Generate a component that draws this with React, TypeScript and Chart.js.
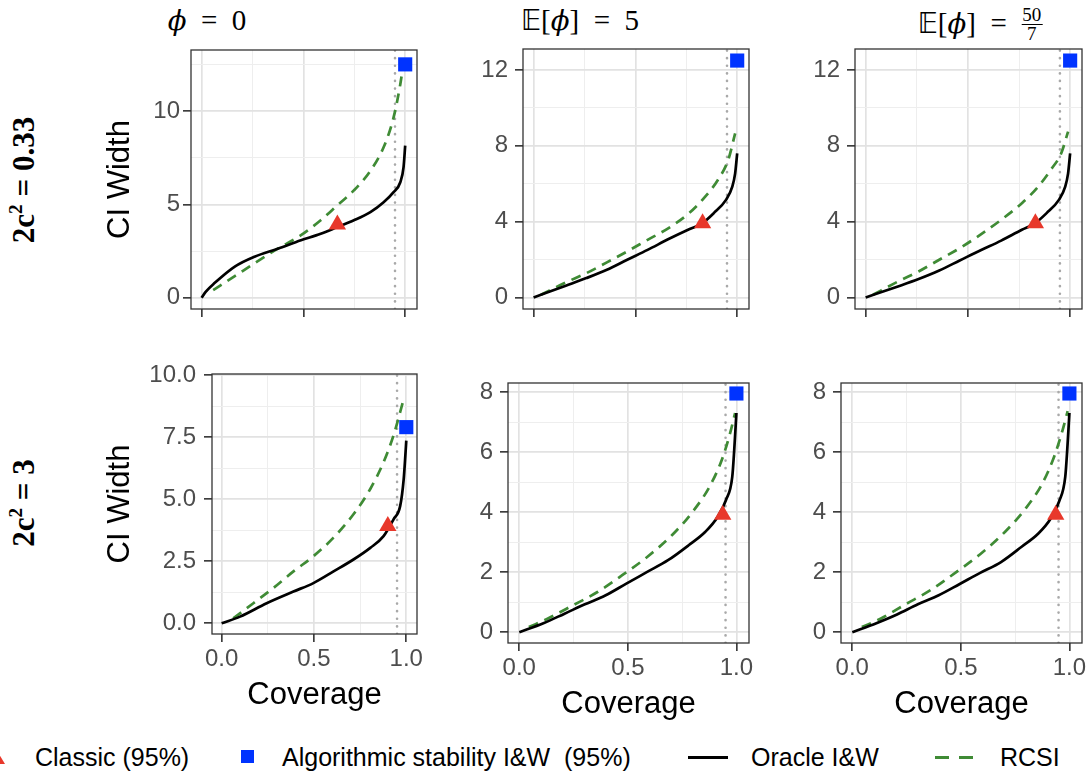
import React, { useEffect, useRef } from 'react';
import { Chart, registerables } from 'chart.js';

Chart.register(...registerables);

// ---------------- data ----------------
const coverageLevel = 0.95;
const classicWidth = 3.92;

const xTickValues = [0, 0.25, 0.5, 0.75, 1.0];
const xMajorValues = [0, 0.5, 1.0];
const xTickLabels = ['0.0', '0.5', '1.0'];

const yTicksTL = [0, 2.5, 5, 7.5, 10, 12.5];
const yMajorTL = [0, 5, 10];
const yLabelsTL = ['0', '5', '10'];

const yTicksTop = [0, 2, 4, 6, 8, 10, 12];
const yMajorTop = [0, 4, 8, 12];
const yLabelsTop = ['0', '4', '8', '12'];

const yTicksBL = [0, 1.25, 2.5, 3.75, 5, 6.25, 7.5, 8.75, 10];
const yMajorBL = [0, 2.5, 5, 7.5, 10];
const yLabelsBL = ['0.0', '2.5', '5.0', '7.5', '10.0'];

const yTicksBot = [0, 1, 2, 3, 4, 5, 6, 7, 8];
const yMajorBot = [0, 2, 4, 6, 8];
const yLabelsBot = ['0', '2', '4', '6', '8'];

// Top-left: phi = 0, 2c^2 = 0.33
const oracleCovTL = [0, 0.02, 0.065, 0.163, 0.26, 0.374, 0.488, 0.585, 0.667, 0.748, 0.829, 0.894, 0.943, 0.976, 0.992, 1.0];
const oracleWTL = [0, 0.32, 0.8, 1.67, 2.2, 2.63, 3.08, 3.43, 3.79, 4.15, 4.59, 5.12, 5.66, 6.19, 7.0, 8.15];
const rcsiCovTL = [0.057, 0.163, 0.276, 0.374, 0.488, 0.585, 0.667, 0.748, 0.829, 0.894, 0.943, 0.976, 0.992];
const rcsiWTL = [0.41, 1.16, 1.96, 2.63, 3.35, 4.15, 4.95, 5.75, 6.8, 8.06, 9.66, 11.44, 12.6];
const classicCovTL = 0.667;
const stabilityTL = 12.5;

// Top-middle: E[phi] = 5, 2c^2 = 0.33
const oracleCovTM = [0, 0.158, 0.259, 0.36, 0.46, 0.56, 0.663, 0.764, 0.824, 0.885, 0.945, 0.976, 0.99, 1.0];
const oracleWTM = [0, 0.62, 1.02, 1.46, 1.99, 2.51, 3.08, 3.6, 3.88, 4.45, 5.15, 5.85, 6.55, 7.6];
const rcsiCovTM = [0.036, 0.158, 0.259, 0.36, 0.46, 0.56, 0.663, 0.764, 0.844, 0.905, 0.956, 0.99];
const rcsiWTM = [0.14, 0.79, 1.28, 1.85, 2.43, 3.04, 3.66, 4.45, 5.33, 6.2, 7.26, 8.66];
const classicCovTM = 0.83;
const stabilityTM = 12.5;

// Top-right: E[phi] = 50/7, 2c^2 = 0.33
const oracleCovTR = [0, 0.158, 0.259, 0.36, 0.46, 0.56, 0.663, 0.764, 0.824, 0.885, 0.945, 0.976, 0.99, 1.0];
const oracleWTR = [0, 0.58, 0.97, 1.42, 1.95, 2.48, 3.0, 3.57, 3.88, 4.45, 5.15, 5.85, 6.55, 7.6];
const rcsiCovTR = [0.036, 0.158, 0.259, 0.36, 0.46, 0.56, 0.663, 0.764, 0.844, 0.905, 0.956, 0.99];
const rcsiWTR = [0.14, 0.84, 1.37, 1.99, 2.6, 3.3, 4.1, 4.97, 5.85, 6.73, 7.6, 8.75];
const classicCovTR = 0.83;
const stabilityTR = 12.5;

// Bottom-left: phi = 0, 2c^2 = 3
const oracleCovBL = [0, 0.1, 0.244, 0.389, 0.497, 0.606, 0.714, 0.805, 0.877, 0.931, 0.967, 0.986, 0.995, 1.0];
const oracleWBL = [0, 0.27, 0.81, 1.28, 1.62, 2.09, 2.57, 3.04, 3.51, 4.19, 4.73, 5.81, 6.76, 7.36];
const rcsiCovBL = [0.063, 0.172, 0.28, 0.389, 0.497, 0.606, 0.714, 0.805, 0.877, 0.931, 0.967, 0.989];
const rcsiWBL = [0.2, 0.81, 1.42, 2.09, 2.7, 3.45, 4.39, 5.41, 6.49, 7.57, 8.51, 9.12];
const classicCovBL = 0.9;
const stabilityBL = 7.9;

// Bottom-middle: E[phi] = 5, 2c^2 = 3
const oracleCovBM = [0, 0.111, 0.206, 0.302, 0.398, 0.493, 0.589, 0.685, 0.78, 0.857, 0.914, 0.952, 0.981, 0.99, 1.0];
const oracleWBM = [0, 0.3, 0.61, 0.93, 1.23, 1.62, 2.01, 2.4, 2.9, 3.35, 3.85, 4.41, 5.19, 6.08, 7.31];
const rcsiCovBM = [0.044, 0.13, 0.245, 0.36, 0.474, 0.589, 0.704, 0.799, 0.876, 0.933, 0.971, 0.994];
const rcsiWBM = [0.17, 0.45, 0.89, 1.34, 1.9, 2.51, 3.24, 4.02, 4.85, 5.75, 6.64, 7.31];
const classicCovBM = 0.937;
const stabilityBM = 7.96;

// Bottom-right: E[phi] = 50/7, 2c^2 = 3
const oracleCovBR = [0, 0.111, 0.206, 0.302, 0.398, 0.493, 0.589, 0.685, 0.78, 0.857, 0.914, 0.952, 0.981, 0.99, 1.0];
const oracleWBR = [0, 0.3, 0.59, 0.93, 1.23, 1.6, 1.98, 2.34, 2.85, 3.29, 3.79, 4.35, 5.19, 6.08, 7.31];
const rcsiCovBR = [0.044, 0.13, 0.245, 0.36, 0.474, 0.589, 0.704, 0.799, 0.876, 0.93, 0.969, 0.992];
const rcsiWBR = [0.17, 0.45, 0.93, 1.4, 1.98, 2.6, 3.35, 4.13, 4.97, 5.86, 6.75, 7.37];
const classicCovBR = 0.937;
const stabilityBR = 7.96;

// ---------------- styling ----------------
const COLORS = {
  oracle: '#000000',
  rcsi: '#3f8b35',
  classic: '#e8382b',
  stability: '#0033ff',
  level: '#a9a9a9',
  border: '#333333',
  gridMajor: '#e2e2e2',
  gridMinor: '#eeeeee',
  tickText: '#4d4d4d',
};
const SANS = '"Liberation Sans", Arial, sans-serif';
const SERIF = '"Liberation Serif", "Times New Roman", serif';

const near = (a: number, b: number) => Math.abs(a - b) < 1e-9;
const isIn = (v: number | undefined, arr: number[]) => v !== undefined && arr.some((m) => near(m, v));

const panelBorder = {
  id: 'panelBorder',
  afterDraw(chart: any) {
    const { ctx, chartArea: a } = chart;
    ctx.save();
    ctx.strokeStyle = COLORS.border;
    ctx.lineWidth = 1.3;
    ctx.strokeRect(a.left, a.top, a.right - a.left, a.bottom - a.top);
    ctx.restore();
  },
};

type PanelProps = {
  L: number; T: number; R: number; B: number;
  yW: number; yPad: number; xH: number;
  yMin: number; yMax: number;
  yTicks: number[]; yMajor: number[]; yLabels: string[];
  oracleCov: number[]; oracleW: number[];
  rcsiCov: number[]; rcsiW: number[];
  classicCov: number; stability: number;
  showXLabels: boolean; yTitle: boolean;
};

const PAD_TOP = 25;
const PAD_RIGHT = 14;

function Panel(p: PanelProps) {
  const ref = useRef<HTMLCanvasElement>(null);
  const left = p.L - p.yW;
  const top = p.T - PAD_TOP;
  const width = p.R - p.L + p.yW + PAD_RIGHT;
  const height = p.B - p.T + PAD_TOP + p.xH;

  useEffect(() => {
    const toPts = (xs: number[], ys: number[]) => xs.map((x, i) => ({ x, y: ys[i] }));
    const gridCfg = (majors: number[]) => ({
      color: (c: any) => (isIn(c.tick?.value, majors) ? COLORS.gridMajor : COLORS.gridMinor),
      lineWidth: (c: any) => (isIn(c.tick?.value, majors) ? 1.7 : 1),
      tickColor: (c: any) => (isIn(c.tick?.value, majors) ? COLORS.border : 'rgba(0,0,0,0)'),
      tickWidth: 1.6,
      tickLength: 8,
      drawTicks: true,
    });
    const chart = new Chart(ref.current as HTMLCanvasElement, {
      type: 'scatter',
      data: {
        datasets: [
          {
            label: 'Algorithmic stability I&W (95%)',
            data: [{ x: 1.0, y: p.stability }],
            pointStyle: 'rect',
            pointRadius: 10,
            backgroundColor: COLORS.stability,
            borderColor: COLORS.stability,
            borderWidth: 0,
            order: 0,
            clip: false,
          } as any,
          {
            label: 'Classic (95%)',
            data: [{ x: p.classicCov, y: classicWidth }],
            pointStyle: 'triangle',
            pointRadius: 10,
            backgroundColor: COLORS.classic,
            borderColor: COLORS.classic,
            borderWidth: 0,
            order: 1,
            clip: false,
          },
          {
            label: 'Oracle I&W',
            data: toPts(p.oracleCov, p.oracleW),
            showLine: true,
            pointRadius: 0,
            borderColor: COLORS.oracle,
            borderWidth: 2.7,
            cubicInterpolationMode: 'monotone',
            order: 2,
          },
          {
            label: 'RCSI',
            data: toPts(p.rcsiCov, p.rcsiW),
            showLine: true,
            pointRadius: 0,
            borderColor: COLORS.rcsi,
            borderWidth: 2.7,
            borderDash: [10, 7],
            cubicInterpolationMode: 'monotone',
            order: 3,
          },
          {
            label: 'level',
            data: [{ x: coverageLevel, y: p.yMin }, { x: coverageLevel, y: p.yMax }],
            showLine: true,
            pointRadius: 0,
            borderColor: COLORS.level,
            borderWidth: 2.6,
            borderDash: [0.1, 7.5],
            borderCapStyle: 'round',
            order: 4,
          },
        ],
      },
      options: {
        animation: false,
        responsive: false,
        maintainAspectRatio: false,
        events: [],
        layout: { padding: { top: PAD_TOP, right: PAD_RIGHT, left: 0, bottom: 0 } },
        plugins: { legend: { display: false }, tooltip: { enabled: false } },
        scales: {
          x: {
            type: 'linear',
            min: -0.052,
            max: 1.058,
            afterBuildTicks: (s: any) => { s.ticks = xTickValues.map((v) => ({ value: v })); },
            afterFit: (s: any) => {
              s.height = p.xH;
              s.paddingLeft = 0; s.paddingRight = 0; s.paddingTop = 0; s.paddingBottom = 0;
            },
            ticks: {
              autoSkip: false,
              maxRotation: 0,
              padding: 3,
              color: COLORS.tickText,
              font: { family: SANS, size: 24 },
              callback: (v: any) => {
                if (!p.showXLabels) return '';
                const i = xMajorValues.findIndex((m) => near(m, Number(v)));
                return i >= 0 ? xTickLabels[i] : '';
              },
            },
            grid: gridCfg(xMajorValues),
            border: { display: false },
            title: {
              display: p.showXLabels,
              text: 'Coverage',
              color: '#000',
              font: { family: SANS, size: 31 },
            },
          },
          y: {
            type: 'linear',
            min: p.yMin,
            max: p.yMax,
            afterBuildTicks: (s: any) => { s.ticks = p.yTicks.map((v) => ({ value: v })); },
            afterFit: (s: any) => {
              s.width = p.yW;
              s.paddingLeft = 0; s.paddingRight = 0; s.paddingTop = 0; s.paddingBottom = 0;
            },
            ticks: {
              autoSkip: false,
              padding: p.yPad,
              color: COLORS.tickText,
              font: { family: SANS, size: 24 },
              callback: (v: any) => {
                const i = p.yMajor.findIndex((m) => near(m, Number(v)));
                return i >= 0 ? p.yLabels[i] : '';
              },
            },
            grid: gridCfg(p.yMajor),
            border: { display: false },
            title: {
              display: p.yTitle,
              text: 'CI Width',
              color: '#000',
              font: { family: SANS, size: 31 },
            },
          },
        },
      } as any,
      plugins: [panelBorder],
    });
    return () => chart.destroy();
  }, []);

  return (
    <canvas
      ref={ref}
      width={width}
      height={height}
      style={{ position: 'absolute', left, top, width, height }}
    />
  );
}

const panels: PanelProps[] = [
  { L: 191, T: 50, R: 417, B: 309, yW: 93, yPad: 3, xH: 10, yMin: -0.6, yMax: 13.27,
    yTicks: yTicksTL, yMajor: yMajorTL, yLabels: yLabelsTL,
    oracleCov: oracleCovTL, oracleW: oracleWTL, rcsiCov: rcsiCovTL, rcsiW: rcsiWTL,
    classicCov: classicCovTL, stability: stabilityTL, showXLabels: false, yTitle: true },
  { L: 523, T: 49, R: 749, B: 309, yW: 60, yPad: 7, xH: 10, yMin: -0.61, yMax: 13.11,
    yTicks: yTicksTop, yMajor: yMajorTop, yLabels: yLabelsTop,
    oracleCov: oracleCovTM, oracleW: oracleWTM, rcsiCov: rcsiCovTM, rcsiW: rcsiWTM,
    classicCov: classicCovTM, stability: stabilityTM, showXLabels: false, yTitle: false },
  { L: 855, T: 49, R: 1082, B: 309, yW: 60, yPad: 7, xH: 10, yMin: -0.61, yMax: 13.11,
    yTicks: yTicksTop, yMajor: yMajorTop, yLabels: yLabelsTop,
    oracleCov: oracleCovTR, oracleW: oracleWTR, rcsiCov: rcsiCovTR, rcsiW: rcsiWTR,
    classicCov: classicCovTR, stability: stabilityTR, showXLabels: false, yTitle: false },
  { L: 212, T: 374, R: 417, B: 634, yW: 114, yPad: 8, xH: 84, yMin: -0.43, yMax: 10.04,
    yTicks: yTicksBL, yMajor: yMajorBL, yLabels: yLabelsBL,
    oracleCov: oracleCovBL, oracleW: oracleWBL, rcsiCov: rcsiCovBL, rcsiW: rcsiWBL,
    classicCov: classicCovBL, stability: stabilityBL, showXLabels: true, yTitle: true },
  { L: 508, T: 383, R: 749, B: 643, yW: 50, yPad: 7, xH: 84, yMin: -0.36, yMax: 8.31,
    yTicks: yTicksBot, yMajor: yMajorBot, yLabels: yLabelsBot,
    oracleCov: oracleCovBM, oracleW: oracleWBM, rcsiCov: rcsiCovBM, rcsiW: rcsiWBM,
    classicCov: classicCovBM, stability: stabilityBM, showXLabels: true, yTitle: false },
  { L: 841, T: 383, R: 1082, B: 643, yW: 50, yPad: 7, xH: 84, yMin: -0.36, yMax: 8.31,
    yTicks: yTicksBot, yMajor: yMajorBot, yLabels: yLabelsBot,
    oracleCov: oracleCovBR, oracleW: oracleWBR, rcsiCov: rcsiCovBR, rcsiW: rcsiWBR,
    classicCov: classicCovBR, stability: stabilityBR, showXLabels: true, yTitle: false },
];

const abs = (extra: React.CSSProperties): React.CSSProperties => ({ position: 'absolute', whiteSpace: 'nowrap', ...extra });

const DSTRUCK: React.CSSProperties = { fontFamily: '"DejaVu Sans", "DejaVu Serif", sans-serif', fontSize: '0.95em' };
const PHI: React.CSSProperties = { fontStyle: 'italic', fontFamily: '"DejaVu Serif", "Liberation Serif", serif', fontSize: '0.95em' };

function ColumnTitles() {
  const base: React.CSSProperties = { font: `29px ${SERIF}`, lineHeight: '29px', top: 6, transform: 'translateX(-50%)', color: '#000' };
  return (
    <>
      <div style={abs({ ...base, left: 207 })}>
        <span style={PHI}>ϕ</span>{'\u2002=\u2002'}0
      </div>
      <div style={abs({ ...base, left: 580 })}>
        <span style={DSTRUCK}>𝔼</span>[<span style={PHI}>ϕ</span>]{'\u2002=\u2002'}5
      </div>
      <div style={abs({ ...base, left: 980 })}>
        <span style={DSTRUCK}>𝔼</span>[<span style={PHI}>ϕ</span>]{'\u2002=\u2002'}
        <span style={{ display: 'inline-block', verticalAlign: '-0.35em', textAlign: 'center', fontSize: 19, lineHeight: '18px' }}>
          <span style={{ display: 'block', borderBottom: '1.2px solid #000', padding: '0 1px' }}>50</span>
          <span style={{ display: 'block' }}>7</span>
        </span>
      </div>
    </>
  );
}

function RowLabel({ cy, value }: { cy: number; value: string }) {
  return (
    <div
      style={abs({
        left: 26,
        top: cy,
        transform: 'translate(-50%, -50%) rotate(-90deg)',
        font: `bold 31px ${SERIF}`,
        lineHeight: '34px',
        color: '#000',
      })}
    >
      2c<span style={{ fontSize: '0.62em', position: 'relative', top: '-0.6em' }}>2</span>
      {'\u2005=\u2005'}{value}
    </div>
  );
}

function Legend() {
  const text: React.CSSProperties = { font: `25px ${SANS}`, lineHeight: '30px', top: 742, color: '#000' };
  return (
    <>
      <div style={abs({ left: -13, top: 749, width: 0, height: 0, borderLeft: '9px solid transparent', borderRight: '9px solid transparent', borderBottom: `15px solid ${COLORS.classic}` })} />
      <div style={abs({ ...text, left: 35 })}>Classic (95%)</div>
      <div style={abs({ left: 241, top: 750, width: 13, height: 13, background: COLORS.stability })} />
      <div style={abs({ ...text, left: 282 })}>Algorithmic stability I&amp;W {'\u00a0'}(95%)</div>
      <div style={abs({ left: 688, top: 755.5, width: 40, height: 3, background: COLORS.oracle })} />
      <div style={abs({ ...text, left: 751 })}>Oracle I&amp;W</div>
      <div style={abs({ left: 935, top: 755.5, width: 14, height: 3, background: COLORS.rcsi })} />
      <div style={abs({ left: 959, top: 755.5, width: 14, height: 3, background: COLORS.rcsi })} />
      <div style={abs({ ...text, left: 1000 })}>RCSI</div>
    </>
  );
}

export default function App() {
  return (
    <div style={{ position: 'absolute', left: 0, top: 0, width: 1091, height: 777, overflow: 'hidden', background: '#fff' }}>
      <ColumnTitles />
      <RowLabel cy={180} value="0.33" />
      <RowLabel cy={503} value="3" />
      {panels.map((p, i) => (
        <Panel key={i} {...p} />
      ))}
      <Legend />
    </div>
  );
}
